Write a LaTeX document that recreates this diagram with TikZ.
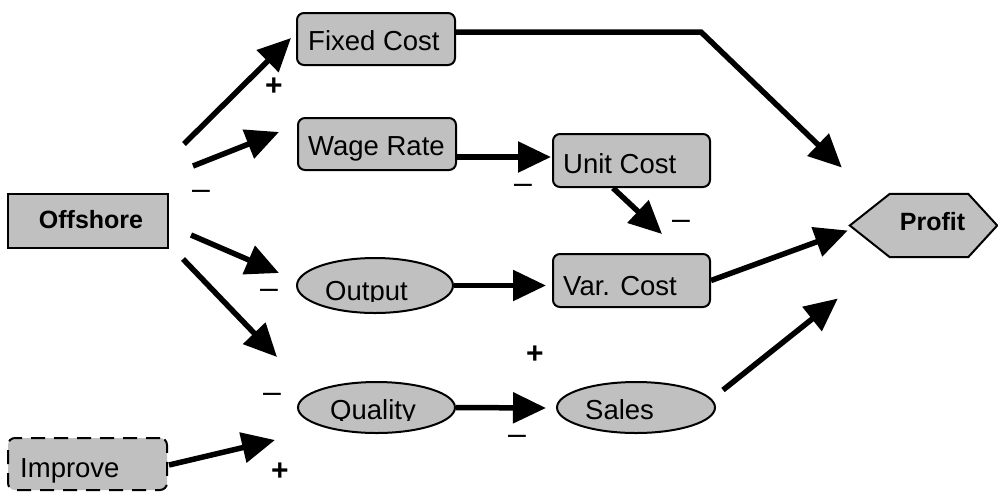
\documentclass[tikz,border=0pt]{standalone}
\usepackage{fontspec}
\setmainfont{Liberation Sans}
\usetikzlibrary{arrows.meta,calc,shapes.geometric}
\definecolor{boxgray}{HTML}{C0C0C0}
\begin{document}
\begin{tikzpicture}[x=1pt,y=-1pt,
  shp/.style={draw=black,line width=2pt,fill=boxgray,inner sep=0pt},
  rbox/.style={shp,rectangle,rounded corners=7pt},
  ell/.style={shp,ellipse},
  lbl/.style={font=\fontsize{27.5}{30}\selectfont,inner sep=0pt},
  blbl/.style={font=\fontsize{25}{28}\selectfont\bfseries,inner sep=0pt},
  plus/.style={font=\fontsize{30}{30}\selectfont\bfseries,inner sep=0pt},
  minus/.style={font=\fontsize{32}{32}\selectfont,inner sep=0pt},
  arr/.style={line width=5.5pt,-{Triangle[length=33pt,width=30pt]}},
]
\useasboundingbox (0,0) rectangle (998,491);

% shapes
\node[shp,rectangle,minimum width=160pt,minimum height=54pt] (off) at (88,221) {};
\node[blbl,anchor=base] (offtxt) at (91,228) {Offshore};

\node[rbox,minimum width=158pt,minimum height=52pt] (fix) at (376,39) {};
\node[lbl,anchor=base west] (fixtxt) at (308,50) {Fixed Cost};

\node[rbox,minimum width=158pt,minimum height=52pt] (wage) at (377,144) {};
\node[lbl,anchor=base west] (wagetxt) at (308,155) {Wage Rate};

\node[rbox,minimum width=157pt,minimum height=53pt] (unit) at (631.5,160.5) {};
\node[lbl,anchor=base west] (unittxt) at (563,173) {Unit Cost};

\node[rbox,minimum width=157pt,minimum height=53pt] (var) at (631.5,280.5) {};
\node[lbl,anchor=base west] (vartxt) at (563,295) {Var. Cost};

\node[ell,minimum width=156pt,minimum height=55pt] (out) at (375,285.5) {};
\begin{scope}
  \clip (290,250) rectangle (460,301);
  \node[lbl,anchor=base west] (outtxt) at (325,300) {Output};
\end{scope}

\node[ell,minimum width=157pt,minimum height=51pt] (qual) at (376.5,407.5) {};
\begin{scope}
  \clip (290,380) rectangle (460,420);
  \node[lbl,anchor=base west] (qualtxt) at (330,419) {Quality};
\end{scope}

\node[ell,minimum width=158pt,minimum height=51pt] (sales) at (636,407.5) {};
\begin{scope}
  \clip (550,380) rectangle (720,420);
  \node[lbl,anchor=base west] (salestxt) at (585,419) {Sales};
\end{scope}

\node[rbox,dash pattern=on 14pt off 9pt,minimum width=159pt,minimum height=52pt] (imp) at (87.5,464) {};
\node[lbl,anchor=base west] (imptxt) at (20,477) {Improve};

\path node[inner sep=0pt,minimum width=147pt,minimum height=63pt] (prof) at (923.5,225.5) {};
\draw[shp] (prof.west) -- ($(prof.north west)+(40,0)$) -- ($(prof.north east)+(-29,0)$)
  -- (prof.east) -- ($(prof.south east)+(-29,0)$) -- ($(prof.south west)+(40,0)$) -- cycle;
\node[blbl,anchor=base] (proftxt) at (932.5,230) {Profit};

% connectors
\draw[arr] ($(off.north east)+(15,-49)$) -- ($(fix.west)+(-5,-1)$);
\draw[arr] ($(off.north east)+(24,-27)$) -- ($(wage.west)+(-18,-12)$);
\draw[arr] ($(off.east)+(22,14)$) -- ($(out.west)+(-17,-12.5)$);
\draw[arr] ($(off.south east)+(14,10)$) -- ($(qual.west)+(-20,-50.5)$);
\draw[arr] ($(wage.east)+(-1,13)$) -- ($(unit.west)+(-1,-3.5)$);
\draw[arr] ($(unit.south)+(-18.5,0)$) -- ($(var.north)+(30.5,-19)$);
\draw[arr] (out.east) -- ($(var.west)+(-6,5)$);
\draw[arr] ($(fix.east)+(0,-7)$) -- ++(245,0) -- ($(prof.west)+(-8,-58)$);
\draw[arr] (var.east) -- ($(prof.west)+(-2,5)$);
\draw[arr] ($(sales.east)+(7,-17.5)$) -- ($(prof.west)+(-12,73)$);
\draw[arr] (qual.east) -- ($(sales.west)+(-10,0.5)$);
\draw[arr] ($(imp.east)+(1,1)$) -- ($(qual.west)+(-22,32.5)$);

% signs
\node[plus] (p1) at (274,87) {+};
\node[minus] (m1) at (201,195) {–};
\node[minus] (m2) at (269,294) {–};
\node[minus] (m3) at (523,189) {–};
\node[minus] (m4) at (681,225) {–};
\node[plus] (p2) at (535,355) {+};
\node[minus] (m5) at (517,440) {–};
\node[minus] (m6) at (272,398) {–};
\node[plus] (p3) at (280,472) {+};
\end{tikzpicture}
\end{document}
